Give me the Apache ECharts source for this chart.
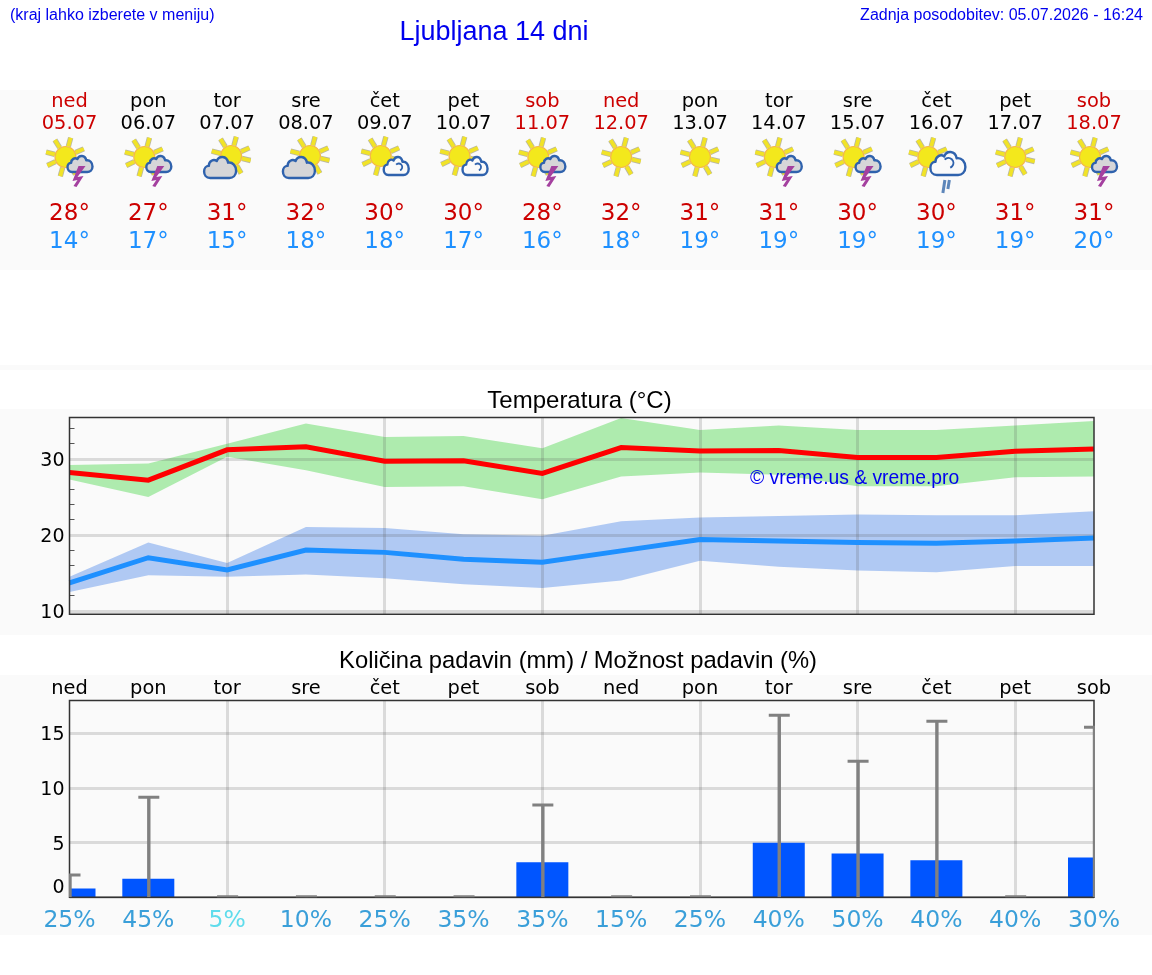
<!DOCTYPE html>
<html lang="sl">
<head>
<meta charset="utf-8">
<title>Ljubljana 14 dni</title>
<style>
html,body{margin:0;padding:0;background:#fff}
#chart{width:1152px;height:975px}
</style>
<script src="https://cdn.jsdelivr.net/npm/echarts@6/dist/echarts.min.js"></script>
</head>
<body>
<div id="chart"></div>
<script>
// 14-day forecast for Ljubljana
const dayNames = ['ned','pon','tor','sre','čet','pet','sob','ned','pon','tor','sre','čet','pet','sob'];
const dates = ['05.07','06.07','07.07','08.07','09.07','10.07','11.07','12.07','13.07','14.07','15.07','16.07','17.07','18.07'];
const weatherIcons = ['storm','storm','cloudy','cloudy','fair','fair','storm','sun','sun','storm','storm','rain','sun','storm'];

const tempHigh = [28.2,27.2,31.2,31.6,29.7,29.75,28.1,31.5,31.05,31.1,30.2,30.2,31.0,31.3];
const tempHighTop = [29.2,29.4,32.0,34.65,32.9,33.0,31.4,35.4,33.8,34.4,33.8,33.8,34.4,35.0];
const tempHighBottom = [27.3,25.0,30.3,28.5,26.3,26.4,24.7,27.7,28.2,27.9,26.4,26.4,27.6,27.7];

const tempLow = [13.7,17.0,15.4,18.0,17.7,16.8,16.4,17.9,19.4,19.2,19.0,18.9,19.2,19.6];
const tempLowTop = [14.5,19.0,16.3,21.05,20.9,20.1,19.9,21.8,22.3,22.5,22.7,22.6,22.6,23.1];
const tempLowBottom = [12.5,14.7,14.5,14.8,14.3,13.5,13.0,14.0,16.6,15.8,15.3,15.1,15.9,15.9];

const rainAmount = [0.8,1.7,0,0,0,0,3.2,0,0,5.0,4.0,3.4,0,3.65];
const rainUpper = [2.0,9.1,0,0,0,0,8.4,0,0,16.6,12.4,16.05,0,15.5];
const rainChance = [25,45,5,10,25,35,35,15,25,40,50,40,40,30];

const tempMajorTicks = [10,20,30];
const tempMinorTicks = [12,14,16,18,22,24,26,28,32,34];
const rainTicks = [0,5,10,15];

const PLOT_LEFT = 69.5, PLOT_WIDTH = 1024.5;
const BAR_WIDTH = 52;
const SANS = '"DejaVu Sans"', ARIAL = '"Liberation Sans"';
const GRID_STROKE = 'rgba(90,90,90,0.2)';
const isWeekend = d => d === 'ned' || d === 'sob';

// Weather pictograms, composed around a column centre
const RAY_ANGLES = [122,75,24,-13,-60,-105,-155,166];
function sunParts(cx, cy) {
  const parts = [];
  RAY_ANGLES.forEach(a => {
    const r = a * Math.PI / 180, c = Math.cos(r), s = -Math.sin(r);
    const shape = {x1: cx + 11*c, y1: cy + 11*s, x2: cx + 20*c, y2: cy + 20*s};
    parts.push({type:'line', shape, style:{stroke:'#b9b7a4', lineWidth:5.4, fill:null}});
    parts.push({type:'line', shape, style:{stroke:'#f1e327', lineWidth:3.8, fill:null}});
  });
  parts.push({type:'circle', shape:{cx, cy, r:10.5}, style:{fill:'#f3e81c', stroke:'#f4b848', lineWidth:1.2}});
  return parts;
}
const CLOUD_PATH = 'M9 30C3 30 0 26 0 22C0 18 3 15 7 15C7 9 14 6 19 9C22 2 34 2 36 11C43 10 48 15 48 21C48 27 43 30 38 30Z';
function cloudPart(x, y, w, h, fill) {
  return {type:'path', shape:{pathData:CLOUD_PATH, layout:'cover', x, y, width:w, height:h},
    style:{fill, stroke:'#2f62ad', lineWidth:2.4, lineJoin:'round'}};
}
function boltPart(x, y) {
  const pts = [[6,0],[-2,11],[4,10],[-3,21],[-6,20],[-2,14],[-7,15],[-1,0]];
  return {type:'polygon', shape:{points:pts.map(p => [x+p[0], y+p[1]])}, style:{fill:'#a4409f'}};
}
function iconChildren(kind, x, y) {
  if (kind === 'sun') return sunParts(x, y);
  if (kind === 'storm') return [...sunParts(x-4, y), cloudPart(x-2, y-1, 25, 16, '#d6d6d8'), boltPart(x+10, y+9)];
  if (kind === 'cloudy') return [...sunParts(x+4, y-1), cloudPart(x-23, y+0, 32, 21, '#d6d6d8')];
  if (kind === 'fair') return [...sunParts(x-4, y-1), cloudPart(x-1, y, 25, 18, '#fafafa'),
    {type:'arc', shape:{cx:x+14, cy:y+10, r:3.5, startAngle:-2.4, endAngle:1.2}, style:{stroke:'#2f62ad', lineWidth:1.8, fill:null}}];
  return [...sunParts(x-8, y), cloudPart(x-6, y-5, 35, 23, '#fafafa'),
    {type:'arc', shape:{cx:x+12, cy:y+6, r:5, startAngle:-2.4, endAngle:1.2}, style:{stroke:'#2f62ad', lineWidth:2, fill:null}},
    {type:'line', shape:{x1:x+8.5, y1:y+23, x2:x+6.5, y2:y+36}, style:{stroke:'#5d86ba', lineWidth:3}},
    {type:'line', shape:{x1:x+13, y1:y+23, x2:x+11.5, y2:y+32}, style:{stroke:'#5d86ba', lineWidth:3}}];
}

// Shaded range between two series, drawn as one closed polygon
function bandSeries(top, bottom, fill, xAxisIndex, yAxisIndex) {
  return {
    type:'custom', xAxisIndex, yAxisIndex, z:1, clip:true, silent:true,
    data:[0],
    renderItem:(params, api) => {
      const upper = top.map((v,i) => api.coord([i, v]));
      const lower = bottom.map((v,i) => api.coord([i, v])).reverse();
      return {type:'polygon', shape:{points:upper.concat(lower)}, style:{fill}};
    }
  };
}

// A row of text under the header, carried by a hidden category axis
function headerRow(data, y, size, color) {
  return {
    type:'category', gridIndex:0, position:'top', offset:270-y, boundaryGap:false, data,
    axisLine:{show:false}, axisTick:{show:false}, splitLine:{show:false},
    axisLabel:{show:true, interval:0, margin:0, verticalAlign:'middle', fontFamily:SANS, fontSize:size, color,
      showMinLabel:true, showMaxLabel:true, hideOverlap:false}
  };
}
const weekendColor = (v, i) => isWeekend(dayNames[i]) ? '#cc0000' : '#000';
const tickLabelStyle = {fontFamily:SANS, fontSize:19, color:'#000'};

const option = {
  animation:false,
  backgroundColor:'#fff',
  graphic:{elements:[
    {type:'rect', z:-10, silent:true, shape:{x:0,y:90,width:1152,height:180}, style:{fill:'#fafafa'}},
    {type:'rect', z:-10, silent:true, shape:{x:0,y:365,width:1152,height:5}, style:{fill:'#fafafa'}},
    {type:'rect', z:-10, silent:true, shape:{x:0,y:409,width:1152,height:226}, style:{fill:'#fafafa'}},
    {type:'rect', z:-10, silent:true, shape:{x:0,y:675,width:1152,height:260}, style:{fill:'#fafafa'}}
  ]},
  title:[
    {text:'(kraj lahko izberete v meniju)', left:10, top:8, padding:0, textStyle:{fontFamily:ARIAL, fontSize:16, fontWeight:'normal', color:'#0000ee'}},
    {text:'Ljubljana 14 dni', left:494, top:19, padding:0, textAlign:'center', textStyle:{fontFamily:ARIAL, fontSize:27, fontWeight:'normal', color:'#0000ee'}},
    {text:'Zadnja posodobitev: 05.07.2026 - 16:24', right:9, top:8, padding:0, textStyle:{fontFamily:ARIAL, fontSize:16, fontWeight:'normal', color:'#0000ee'}},
    {text:'Temperatura (°C)', left:579.5, top:389, padding:0, textAlign:'center', textStyle:{fontFamily:ARIAL, fontSize:24, fontWeight:'normal', color:'#000'}},
    {text:'© vreme.us & vreme.pro', left:750, top:469, padding:0, z:10, textStyle:{fontFamily:ARIAL, fontSize:19.3, fontWeight:'normal', color:'#0000ee'}},
    {text:'Količina padavin (mm) / Možnost padavin (%)', left:578, top:649, padding:0, textAlign:'center', textStyle:{fontFamily:ARIAL, fontSize:23.75, fontWeight:'normal', color:'#000'}}
  ],
  grid:[
    {left:PLOT_LEFT, width:PLOT_WIDTH, top:270, height:1, show:false},
    {left:PLOT_LEFT, width:PLOT_WIDTH, top:417.5, height:196.8, show:true, backgroundColor:'transparent', borderColor:'#333', borderWidth:1.5, z:4},
    {left:PLOT_LEFT, width:PLOT_WIDTH, top:700.5, height:196.8, show:true, backgroundColor:'transparent', borderColor:'#333', borderWidth:1.5, z:4}
  ],
  xAxis:[
    headerRow(dayNames, 102, 19.4, weekendColor),
    headerRow(dates, 124, 19.4, weekendColor),
    headerRow(tempHigh.map(v => Math.round(v) + '°'), 214, 23, '#cc0000'),
    headerRow(tempLow.map(v => Math.round(v) + '°'), 242, 23, '#1e90ff'),
    {
      type:'category', gridIndex:1, boundaryGap:false, data:dates, z:2,
      axisLine:{show:false}, axisTick:{show:false}, axisLabel:{show:false},
      splitLine:{show:true, interval:i => i > 0 && i % 2 === 0, lineStyle:{color:GRID_STROKE, width:3}}
    },
    {
      type:'category', gridIndex:2, position:'top', boundaryGap:false, data:dayNames, z:1,
      axisLine:{show:false}, axisTick:{show:false},
      axisLabel:{show:true, interval:0, margin:12, verticalAlign:'middle', fontFamily:SANS, fontSize:19.4, color:'#000', hideOverlap:false},
      splitLine:{show:true, interval:i => i > 0 && i % 2 === 0, lineStyle:{color:GRID_STROKE, width:3}}
    },
    {
      type:'category', gridIndex:2, position:'bottom', boundaryGap:false, data:rainChance.map(v => v + '%'), z:1,
      axisLine:{show:false}, axisTick:{show:false}, splitLine:{show:false},
      axisLabel:{show:true, interval:0, margin:24, verticalAlign:'middle', fontFamily:SANS, fontSize:23.5, hideOverlap:false,
        color:(v, i) => rainChance[i] <= 5 ? '#5fdcec' : '#3a9fd9'}
    }
  ],
  yAxis:[
    {type:'value', gridIndex:0, min:0, max:1, show:false},
    {
      type:'value', gridIndex:1, min:9.55, max:35.45, z:0, position:'left',
      axisLine:{show:false}, splitLine:{show:false}, axisLabel:{show:false},
      axisTick:{show:true, inside:true, length:5, customValues:tempMinorTicks, lineStyle:{color:'#555', width:1}}
    },
    {
      type:'value', gridIndex:1, min:9.55, max:35.45, z:2, position:'left',
      axisLine:{show:false}, axisTick:{show:false, customValues:tempMajorTicks},
      axisLabel:{show:true, customValues:tempMajorTicks, margin:5, formatter:v => `{n|${v}}`,
        rich:{n:{...tickLabelStyle, padding:[4,0,0,0]}}},
      splitLine:{show:true, lineStyle:{color:GRID_STROKE, width:3}}
    },
    {
      type:'value', gridIndex:2, min:0, max:18, z:1, position:'left',
      axisLine:{show:false}, axisTick:{show:false, customValues:rainTicks},
      axisLabel:{show:true, customValues:rainTicks, margin:5, formatter:v => v === 0 ? `{z|${v}}` : `{n|${v}}`,
        rich:{n:{...tickLabelStyle, padding:[4,0,0,0]}, z:{...tickLabelStyle, padding:[0,0,18,0]}}},
      splitLine:{show:true, lineStyle:{color:GRID_STROKE, width:3}}
    }
  ],
  series:[
    {
      type:'custom', xAxisIndex:0, yAxisIndex:0, clip:false, silent:true,
      data:weatherIcons.map((k,i) => [i, 0]),
      renderItem:(params, api) => {
        const p = api.coord([api.value(0), 0]);
        return {type:'group', children:iconChildren(weatherIcons[params.dataIndex], p[0], 157)};
      }
    },
    bandSeries(tempHighTop, tempHighBottom, '#aeebae', 4, 2),
    bandSeries(tempLowTop, tempLowBottom, '#b0c9f3', 4, 2),
    {type:'line', xAxisIndex:4, yAxisIndex:2, data:tempHigh, z:3, symbol:'none', silent:true,
      lineStyle:{color:'#ff0000', width:5, join:'miter'}},
    {type:'line', xAxisIndex:4, yAxisIndex:2, data:tempLow, z:3, symbol:'none', silent:true,
      lineStyle:{color:'#1e90ff', width:5, join:'miter'}},
    {
      // Daily rainfall columns, cut off at the plot edge on the first and last day
      type:'custom', xAxisIndex:5, yAxisIndex:3, clip:true, z:2, silent:true,
      data:rainAmount.map((v,i) => [i, v]),
      renderItem:(params, api) => {
        if (!api.value(1)) return null;
        const top = api.coord([api.value(0), api.value(1)]);
        const base = api.coord([api.value(0), 0]);
        return {type:'rect', shape:{x:top[0]-BAR_WIDTH/2, y:top[1], width:BAR_WIDTH, height:base[1]-top[1]},
          style:{fill:'#0055ff'}};
      }
    },
    {
      // Upper limit of the expected rainfall, one whisker per day
      type:'custom', xAxisIndex:5, yAxisIndex:3, clip:true, z:5, silent:true,
      data:rainUpper.map((v,i) => [i, v]),
      renderItem:(params, api) => {
        const top = api.coord([api.value(0), api.value(1)]);
        const base = api.coord([api.value(0), 0]);
        const x = top[0] + 0.5, y = top[1] - 0.5;
        return {type:'group', children:[
          {type:'line', shape:{x1:x, y1:base[1], x2:x, y2:y}, style:{stroke:'#808080', lineWidth:3.4}},
          {type:'line', shape:{x1:x-10.5, y1:y, x2:x+10.5, y2:y}, style:{stroke:'#808080', lineWidth:3}}
        ]};
      }
    }
  ]
};

echarts.init(document.getElementById('chart'), null, {renderer:'canvas'}).setOption(option);
</script>
</body>
</html>
